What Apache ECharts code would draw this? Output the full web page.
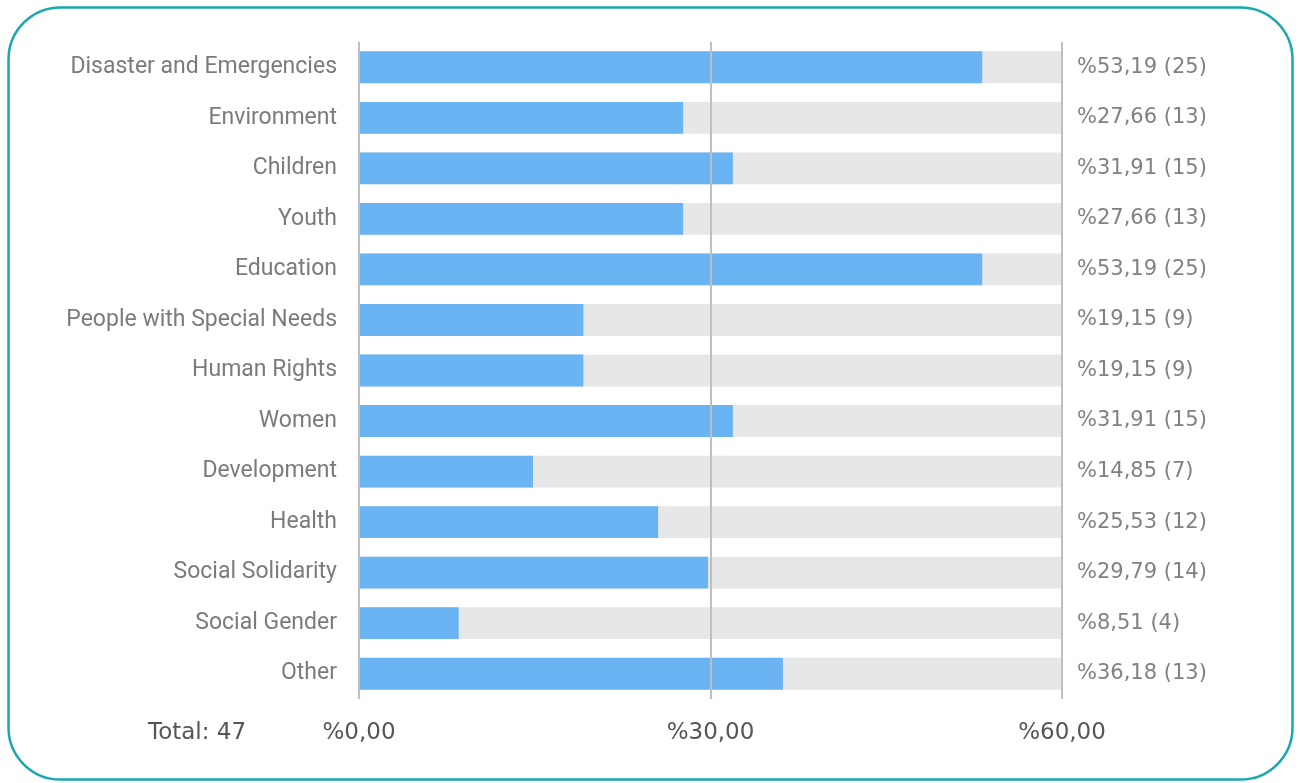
<!DOCTYPE html>
<html>
<head>
<meta charset="utf-8">
<script src="https://cdn.jsdelivr.net/npm/echarts@6/dist/echarts.min.js"></script>
<style>
  html, body { margin: 0; padding: 0; background: #ffffff; }
  #chart { width: 1300px; height: 783px; }
</style>
</head>
<body>
<div id="chart"></div>
<script>
// Areas of activity, share of organisations (%) and counts
const categories = [
  'Disaster and Emergencies', 'Environment', 'Children', 'Youth', 'Education',
  'People with Special Needs', 'Human Rights', 'Women', 'Development', 'Health',
  'Social Solidarity', 'Social Gender', 'Other'
];
const percents = [53.19, 27.66, 31.91, 27.66, 53.19, 19.15, 19.15, 31.91, 14.85, 25.53, 29.79, 8.51, 36.18];
const counts = [25, 13, 15, 13, 25, 9, 9, 15, 7, 12, 14, 4, 13];
const axisTicks = [0, 30, 60];
const total = 47;

const fmt = (v) => '%' + v.toFixed(2).replace('.', ',');
const valueLabels = percents.map((p, i) => fmt(p) + ' (' + counts[i] + ')');

const TEXT_FONT = 'Roboto';
const NUM_FONT = 'DejaVu Sans';
const chart = echarts.init(document.getElementById('chart'));

chart.setOption({
  animation: false,
  textStyle: { fontFamily: TEXT_FONT },
  graphic: [
    {
      type: 'rect',
      shape: { x: 8.5, y: 7.5, width: 1284, height: 772, r: 52 },
      style: { fill: 'none', stroke: '#17a8b1', lineWidth: 2.5 },
      z: 0
    },
    {
      type: 'text',
      x: 148,
      y: 733,
      style: {
        text: 'Total: ' + total, fill: '#555555', fontSize: 23,
        fontFamily: NUM_FONT, verticalAlign: 'middle'
      }
    }
  ],
  grid: { left: 359, right: 238, top: 42, bottom: 84, containLabel: false },
  xAxis: {
    type: 'value',
    min: axisTicks[0],
    max: axisTicks[axisTicks.length - 1],
    interval: axisTicks[1] - axisTicks[0],
    z: 5,
    axisLine: { show: false },
    axisTick: { show: false },
    splitLine: { show: true, lineStyle: { color: '#bfbfbf', width: 2 } },
    axisLabel: {
      color: '#555555', fontSize: 23, margin: 23, fontFamily: NUM_FONT,
      formatter: (v) => fmt(v)
    }
  },
  yAxis: [
    {
      type: 'category',
      data: categories,
      inverse: true,
      axisLine: { show: false },
      axisTick: { show: false },
      axisLabel: { color: '#7a7b7d', fontSize: 23, margin: 22, padding: [4, 0, 0, 0] }
    },
    {
      type: 'category',
      data: valueLabels,
      inverse: true,
      position: 'right',
      axisLine: { show: false },
      axisTick: { show: false },
      axisLabel: { color: '#808184', fontSize: 21, margin: 15, fontFamily: NUM_FONT, padding: [3, 0, 0, 0] }
    }
  ],
  series: [
    {
      type: 'bar',
      data: percents,
      barWidth: '63%',
      itemStyle: { color: '#6bb4f3' },
      showBackground: true,
      backgroundStyle: { color: '#e6e7e8' },
      z: 2
    }
  ]
});
</script>
</body>
</html>
